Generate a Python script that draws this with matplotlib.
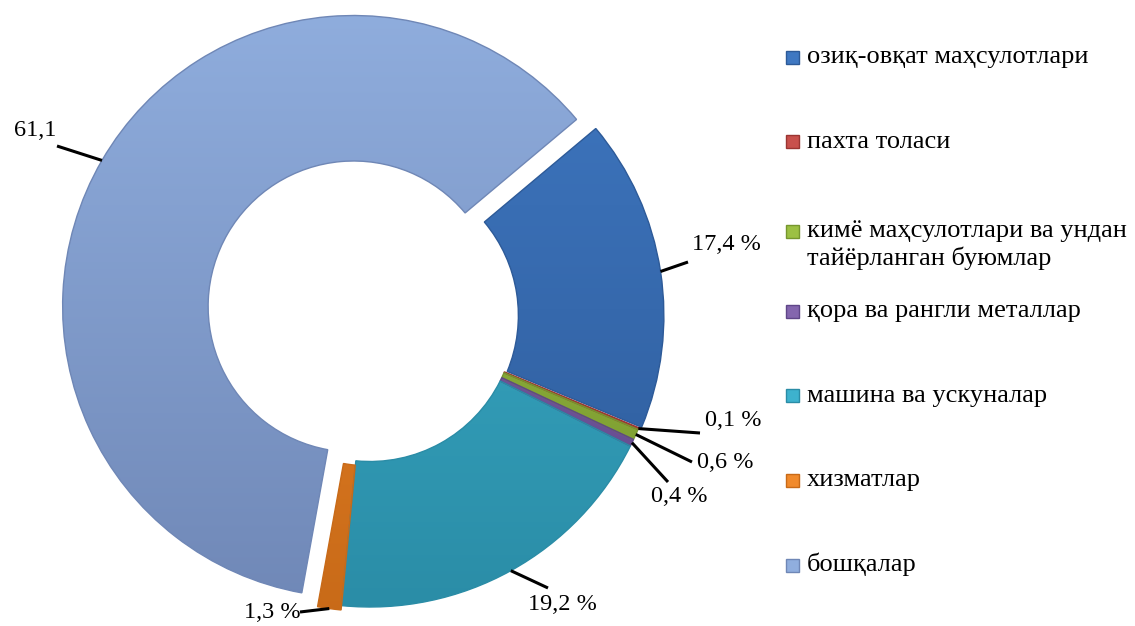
import numpy as np
import matplotlib.pyplot as plt
from matplotlib.patches import Rectangle
from matplotlib.colors import LinearSegmentedColormap

plt.rcParams['font.family'] = ['Liberation Serif', 'DejaVu Serif']

categories = ['озиқ-овқат маҳсулотлари', 'пахта толаси',
              'кимё маҳсулотлари ва ундан\nтайёрланган буюмлар',
              'қора ва рангли металлар', 'машина ва ускуналар',
              'хизматлар', 'бошқалар']
values = [17.4, 0.1, 0.6, 0.4, 19.2, 1.3, 61.1]
value_labels = ['17,4 %', '0,1 %', '0,6 %', '0,4 %', '19,2 %', '1,3 %', '61,1']
# light (top) and dark (bottom) shade of every slice
light = ['#3F78C2', '#C8504C', '#9CC043', '#8466AE', '#3DB2CE', '#F18A2C', '#90AEDE']
dark = ['#2D5A98', '#9A3532', '#76962E', '#5F4688', '#2A8CA6', '#C86A18', '#6F87B6']
explode = [0.01, 0, 0, 0, 0, 0.015, 0.065]

# pixel layout of the picture
W, H = 1135, 626
CX, CY, R = 370, 316, 291


def px(x, y):
    return ((x - CX) / R, (CY - y) / R)


fig = plt.figure(figsize=(W / 100, H / 100), dpi=100)
ax = fig.add_axes([0, 0, 1, 1])

wedges, _ = ax.pie(values, colors=light, startangle=40, counterclock=False,
                   explode=explode, radius=1,
                   wedgeprops=dict(width=0.5, linewidth=1.0))

grad = np.linspace(0, 1, 256).reshape(-1, 1)
for w, lc, dc in zip(wedges, light, dark):
    w.set_edgecolor(dc)
    cmap = LinearSegmentedColormap.from_list('', [dc, lc])
    im = ax.imshow(grad, cmap=cmap, origin='lower', aspect='auto',
                   extent=[-1.2, 1.2, -1.05, 1.1], zorder=w.get_zorder() + 0.1)
    im.set_clip_path(w)
    w.set_zorder(w.get_zorder() + 0.2)
    w.set_facecolor('none')

ax.set_xlim(px(0, 0)[0], px(W, 0)[0])
ax.set_ylim(px(0, H)[1], px(0, 0)[1])
ax.axis('off')

# data labels: text centre and end of leader line (pixels)
label_pos = [(726, 245), (733, 421), (725, 463), (679, 497), (562, 605), (272, 612), (35, 131)]
line_end = [(688, 262), (700, 433), (692, 462), (668, 482), (548, 588), (300, 612), (57, 146)]

for w, txt, tp, le in zip(wedges, value_labels, label_pos, line_end):
    mid = np.deg2rad((w.theta1 + w.theta2) / 2)
    cx, cy = w.center
    ex, ey = cx + w.r * np.cos(mid), cy + w.r * np.sin(mid)
    lx, ly = px(*le)
    ax.plot([ex, lx], [ey, ly], color='black', lw=2.2, solid_capstyle='butt', zorder=5)
    tx, ty = px(*tp)
    ax.text(tx, ty, txt, ha='center', va='center', fontsize=17.5)

# legend
for i, (name, lc, dc) in enumerate(zip(categories, light, dark)):
    y = 57 + 84.7 * i
    if '\n' in name:
        y += 5
    x0, y0 = px(786, y + 6.5)
    ax.add_patch(Rectangle((x0, y0), 13 / R, 13 / R, facecolor=lc, edgecolor=dc, lw=1))
    for j, line in enumerate(name.split('\n')):
        tx, ty = px(807, y + 6 + 28 * j)
        ax.text(tx, ty, line, ha='left', va='baseline', fontsize=19)

fig.savefig('out.png', dpi=100)
